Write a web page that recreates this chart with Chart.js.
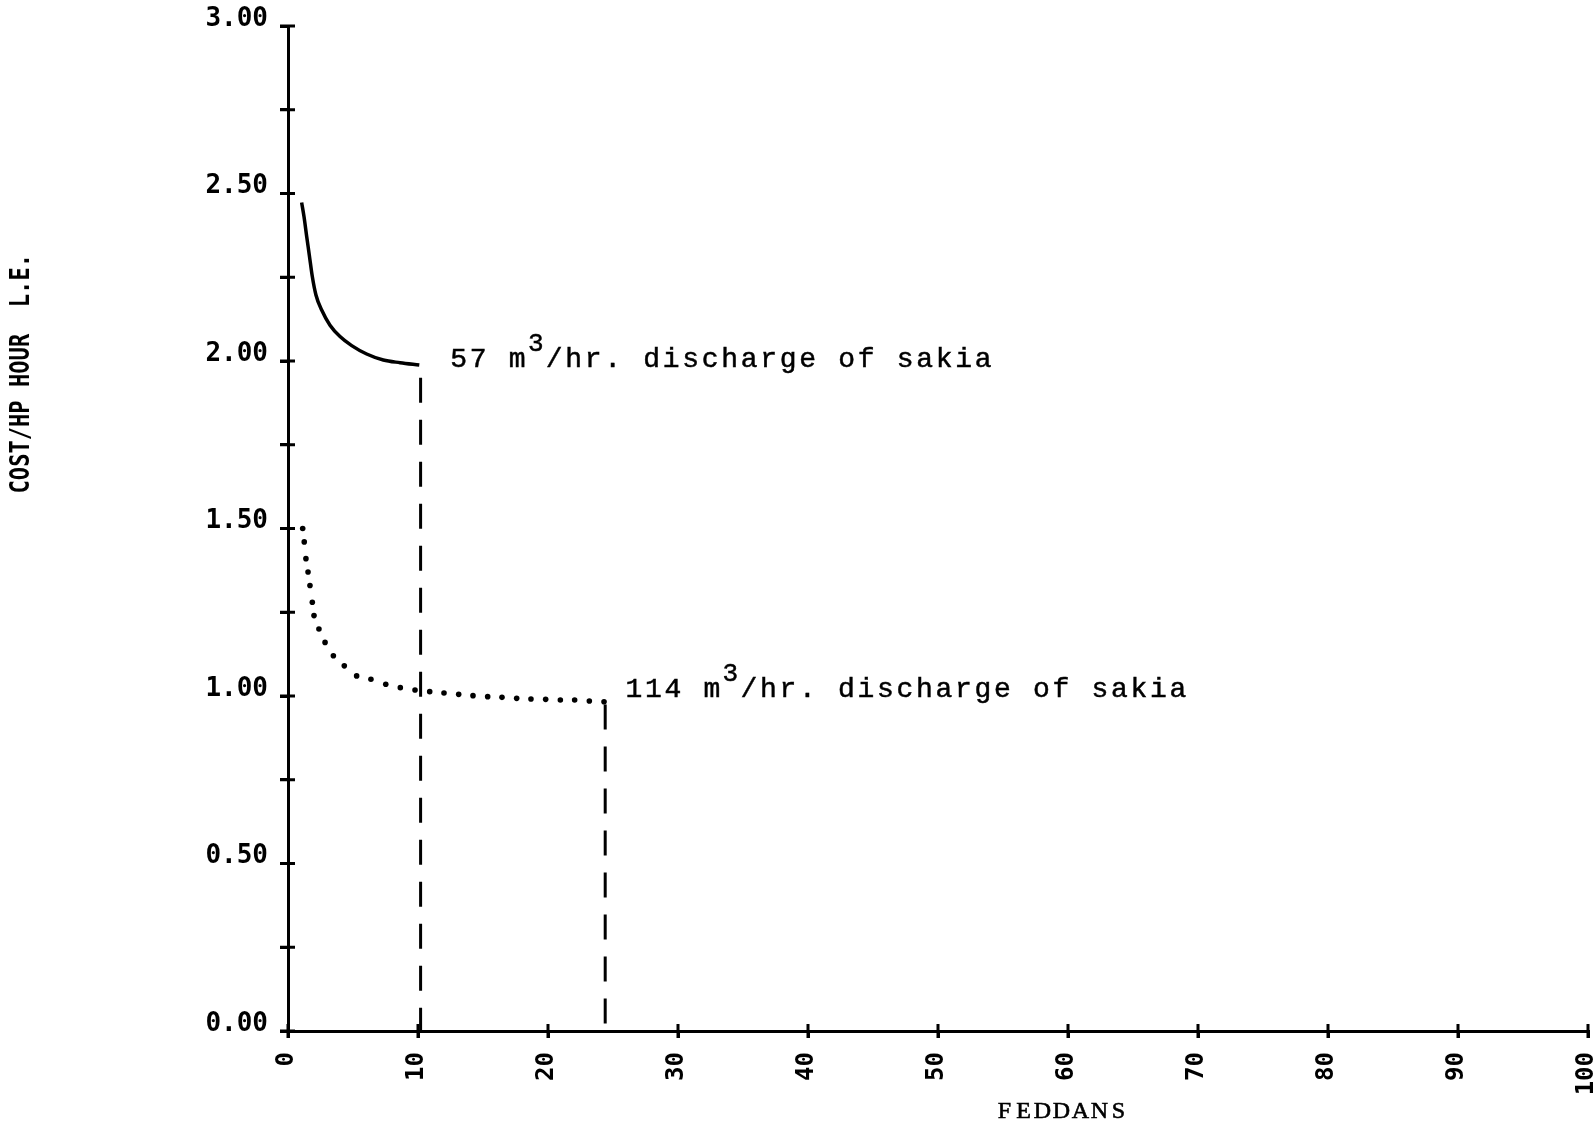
<!DOCTYPE html>
<html>
<head>
<meta charset="utf-8">
<script src="https://cdn.jsdelivr.net/npm/chart.js@4.4.1/dist/chart.umd.min.js"></script>
<style>
html, body { margin: 0; padding: 0; background: #fff; }
#wrap { position: relative; width: 1595px; height: 1130px; }
</style>
</head>
<body>
<div id="wrap"><canvas id="c"></canvas></div>
<script>
// ---- data ----
const xMin = 0, xMax = 100, xStep = 10;
const yMin = 0, yMax = 3, yStep = 0.25;

// 57 m3/hr sakia (solid curve)
const sakia57X = [1.05, 1.23, 1.44, 1.64, 1.87, 2.15, 2.59, 3.23, 4.0, 4.9, 6.05, 7.33, 8.62, 10.1];
const sakia57Y = [2.473, 2.431, 2.371, 2.316, 2.252, 2.197, 2.152, 2.107, 2.073, 2.046, 2.021, 2.003, 1.995, 1.988];

// 114 m3/hr sakia (dotted curve)
const sakia114X = [1.13, 1.25, 1.38, 1.54, 1.69, 1.87, 2.00, 2.38, 2.85, 3.49, 4.33, 5.28, 6.38, 7.52, 8.64, 9.77, 10.9, 12.0, 13.13, 14.23, 15.36, 16.46, 17.59, 18.69, 19.82, 20.95, 22.05, 23.18, 24.31];
const sakia114Y = [1.50, 1.46, 1.41, 1.37, 1.33, 1.28, 1.24, 1.20, 1.16, 1.12, 1.09, 1.06, 1.05, 1.035, 1.025, 1.018, 1.013, 1.009, 1.005, 1.001, 0.998, 0.996, 0.993, 0.991, 0.990, 0.988, 0.988, 0.985, 0.983];

// dashed drop lines (feddans, top value)
const dropX = [10.2, 24.4];
const dropTop = [1.95, 0.975];

// annotations
const annotRate = ['57', '114'];
const annotX = [12.38, 25.85];
const annotY = [1.982, 0.997];
const annotSuffix = '/hr. discharge of sakia';

const xTitle = 'FEDDANS';
const yTitle = 'COST/HP HOUR  L.E.';

// ---- helpers ----
const pts = (xs, ys) => xs.map((x, i) => ({ x: x, y: ys[i] }));

const datasets = [
  {
    data: pts(sakia57X, sakia57Y),
    borderColor: '#000', borderWidth: 3.5, pointRadius: 0,
    showLine: true, cubicInterpolationMode: 'monotone', fill: false
  },
  {
    data: pts(sakia114X, sakia114Y),
    showLine: false, pointRadius: 2.8, pointBorderWidth: 0,
    pointBackgroundColor: '#000', borderColor: '#000'
  }
];
dropX.forEach((x, i) => {
  datasets.push({
    data: [{ x: x, y: dropTop[i] }, { x: x, y: 0 }],
    borderColor: '#000', borderWidth: 3, borderDash: [25, 17],
    pointRadius: 0, showLine: true, fill: false
  });
});

const yTickFont = { family: '"DejaVu Sans Mono", monospace', size: 26, weight: 'bold', lineHeight: 0.6 };
const xTickFont = { family: '"DejaVu Sans Mono", monospace', size: 24, weight: 'bold', lineHeight: 0.6 };

// crossing tick marks through both axes
const crossTicks = {
  id: 'crossTicks',
  afterDraw(chart) {
    const { ctx } = chart;
    const xs = chart.scales.x, ys = chart.scales.y;
    ctx.save();
    ctx.strokeStyle = '#000';
    ctx.lineWidth = 3;
    ctx.lineCap = 'butt';
    ctx.beginPath();
    xs.ticks.forEach(t => {
      const px = xs.getPixelForValue(t.value);
      ctx.moveTo(px, xs.top + 7);
      ctx.lineTo(px, xs.top - 7);
    });
    ys.ticks.forEach(t => {
      const py = ys.getPixelForValue(t.value);
      ctx.moveTo(ys.right - 8, py);
      ctx.lineTo(ys.right + 7, py);
    });
    ctx.stroke();
    ctx.restore();
  }
};

function drawCells(ctx, text, x0, y, pitch, stroke) {
  for (let k = 0; k < text.length; k++) {
    const cx = x0 + (k + 0.5) * pitch;
    ctx.fillText(text[k], cx, y);
    if (stroke) ctx.strokeText(text[k], cx, y);
  }
  return x0 + text.length * pitch;
}

const annotations = {
  id: 'annotations',
  afterDatasetsDraw(chart) {
    const { ctx } = chart;
    const xs = chart.scales.x, ys = chart.scales.y;
    const pitch = 19.5;
    ctx.save();
    ctx.fillStyle = '#000';
    ctx.strokeStyle = '#000';
    ctx.lineWidth = 0.5;
    ctx.textAlign = 'center';
    ctx.textBaseline = 'alphabetic';
    annotRate.forEach((rate, i) => {
      let x = xs.getPixelForValue(annotX[i]);
      const base = ys.getPixelForValue(annotY[i]);
      ctx.font = '28px "Liberation Mono", monospace';
      x = drawCells(ctx, rate + ' m', x, base, pitch, true);
      ctx.font = '26px "Liberation Mono", monospace';
      x = drawCells(ctx, '3', x, base - 16, pitch * 0.9, true);
      ctx.font = '28px "Liberation Mono", monospace';
      drawCells(ctx, annotSuffix, x, base, pitch, true);
    });
    ctx.restore();
  }
};

const axisTitles = {
  id: 'axisTitles',
  afterDraw(chart) {
    const { ctx, chartArea: a } = chart;
    ctx.save();
    ctx.fillStyle = '#000';
    ctx.strokeStyle = '#000';
    ctx.lineWidth = 0.6;
    ctx.textAlign = 'center';
    ctx.textBaseline = 'alphabetic';
    ctx.font = '24px "Liberation Serif", serif';
    const pitch = 19;
    const cx = a.left + 0.595 * (a.right - a.left);
    drawCells(ctx, xTitle, cx - xTitle.length * pitch / 2, a.bottom + 87, pitch, true);

    ctx.translate(22, a.top + 0.346 * (a.bottom - a.top));
    ctx.rotate(-Math.PI / 2);
    ctx.scale(0.85, 1);
    ctx.font = 'bold 26px "DejaVu Sans Mono", monospace';
    ctx.textBaseline = 'middle';
    ctx.fillText(yTitle, 0, 0);
    ctx.restore();
  }
};

new Chart(document.getElementById('c'), {
  type: 'scatter',
  data: { datasets: datasets },
  options: {
    responsive: true,
    maintainAspectRatio: false,
    animation: false,
    devicePixelRatio: 1,
    layout: { padding: { top: 26, right: 7, bottom: 0, left: 0 } },
    plugins: { legend: { display: false }, tooltip: { enabled: false } },
    scales: {
      x: {
        type: 'linear', min: xMin, max: xMax,
        border: { display: true, color: '#000', width: 3 },
        grid: { display: true, drawOnChartArea: false, drawTicks: true, tickLength: 7, color: '#000', lineWidth: 3 },
        ticks: {
          stepSize: xStep, autoSkip: false, minRotation: 90, maxRotation: 90,
          color: '#000', font: xTickFont, padding: 14, labelOffset: -1,
          callback: v => String(v)
        },
        afterFit(scale) { scale.height = 99; scale.paddingLeft = 0; scale.paddingRight = 0; }
      },
      y: {
        type: 'linear', min: yMin, max: yMax,
        border: { display: true, color: '#000', width: 3 },
        grid: { display: true, drawOnChartArea: false, drawTicks: true, tickLength: 8, color: '#000', lineWidth: 3 },
        ticks: {
          stepSize: yStep, autoSkip: false, color: '#000', font: yTickFont,
          padding: 12, labelOffset: -7,
          callback: v => (Math.abs(v * 2 - Math.round(v * 2)) < 1e-6 ? Number(v).toFixed(2) : '')
        },
        afterFit(scale) { scale.width = 288; scale.paddingTop = 0; scale.paddingBottom = 0; }
      }
    }
  },
  plugins: [crossTicks, annotations, axisTitles]
});
</script>
</body>
</html>
